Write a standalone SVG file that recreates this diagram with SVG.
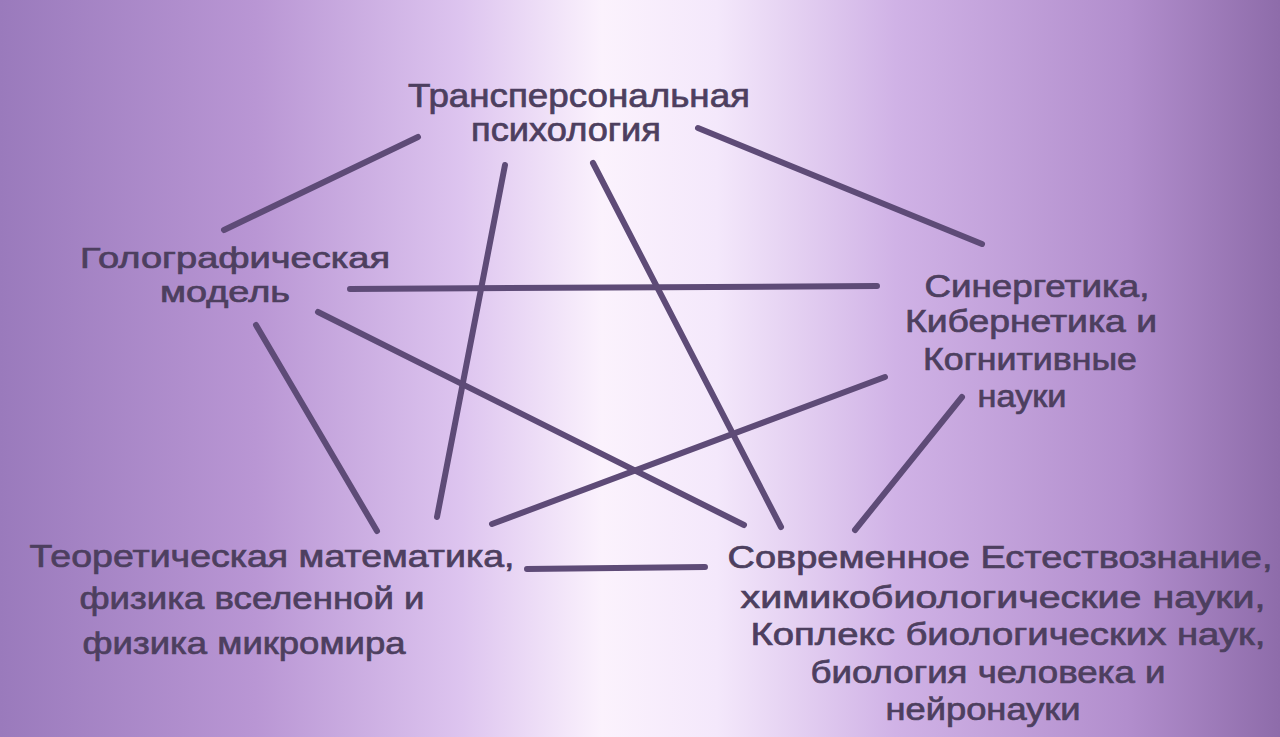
<svg xmlns="http://www.w3.org/2000/svg" width="1280" height="737" viewBox="0 0 1280 737">
<defs>
<linearGradient id="bg" x1="0" y1="0" x2="1" y2="0">
<stop offset="0" stop-color="#9a7abc"/>
<stop offset="0.2" stop-color="#b996d4"/>
<stop offset="0.36" stop-color="#ddc4ef"/>
<stop offset="0.47" stop-color="#fbf2fd"/>
<stop offset="0.56" stop-color="#f4e8fb"/>
<stop offset="0.7" stop-color="#d0b2e6"/>
<stop offset="0.88" stop-color="#b28ecd"/>
<stop offset="1" stop-color="#8e6caa"/>
</linearGradient>
<style>
.c{stroke:#5e4b77;stroke-width:6;stroke-linecap:round;fill:none}
.t{font-family:"Liberation Sans",Arial,sans-serif;fill:#4d3f5f;stroke:#4d3f5f;stroke-width:0.7;text-anchor:middle}
</style>
</defs>
<rect width="1280" height="737" fill="url(#bg)"/>
<g id="connectors">
<line class="c" x1="418" y1="137" x2="224" y2="230"/>
<line class="c" x1="698" y1="128" x2="982" y2="244"/>
<line class="c" x1="350" y1="289" x2="877" y2="286"/>
<line class="c" x1="505" y1="165" x2="437" y2="517"/>
<line class="c" x1="593" y1="163" x2="781" y2="527"/>
<line class="c" x1="318" y1="312" x2="744" y2="525"/>
<line class="c" x1="256" y1="325" x2="377" y2="531"/>
<line class="c" x1="885" y1="377" x2="492" y2="524"/>
<line class="c" x1="962" y1="397" x2="855" y2="530"/>
<line class="c" x1="527" y1="569" x2="705" y2="567"/>
</g>
<g id="node-transpersonal" class="t" font-size="33">
<text x="579" y="107" textLength="342" lengthAdjust="spacingAndGlyphs">Трансперсональная</text>
<text x="566" y="141" textLength="190" lengthAdjust="spacingAndGlyphs">психология</text>
</g>
<g id="node-holographic" class="t" font-size="29">
<text x="235" y="268" textLength="310" lengthAdjust="spacingAndGlyphs">Голографическая</text>
<text x="225" y="302" textLength="130" lengthAdjust="spacingAndGlyphs">модель</text>
</g>
<g id="node-synergetics" class="t" font-size="31">
<text x="1037" y="297" textLength="225" lengthAdjust="spacingAndGlyphs">Синергетика,</text>
<text x="1031" y="332" textLength="252" lengthAdjust="spacingAndGlyphs">Кибернетика и</text>
<text x="1030" y="370" textLength="214" lengthAdjust="spacingAndGlyphs">Когнитивные</text>
<text x="1022" y="407" textLength="89" lengthAdjust="spacingAndGlyphs">науки</text>
</g>
<g id="node-theoretical" class="t" font-size="32">
<text x="272" y="567" textLength="485" lengthAdjust="spacingAndGlyphs">Теоретическая математика,</text>
<text x="252" y="609" textLength="345" lengthAdjust="spacingAndGlyphs">физика вселенной и</text>
<text x="244" y="654" textLength="323" lengthAdjust="spacingAndGlyphs">физика микромира</text>
</g>
<g id="node-modern" class="t" font-size="31">
<text x="1000" y="568" textLength="545" lengthAdjust="spacingAndGlyphs">Современное Естествознание,</text>
<text x="1003" y="608" textLength="525" lengthAdjust="spacingAndGlyphs">химикобиологические науки,</text>
<text x="1008" y="645" textLength="515" lengthAdjust="spacingAndGlyphs">Коплекс биологических наук,</text>
<text x="988" y="683" textLength="355" lengthAdjust="spacingAndGlyphs">биология человека и</text>
<text x="983" y="720" textLength="195" lengthAdjust="spacingAndGlyphs">нейронауки</text>
</g>
</svg>
